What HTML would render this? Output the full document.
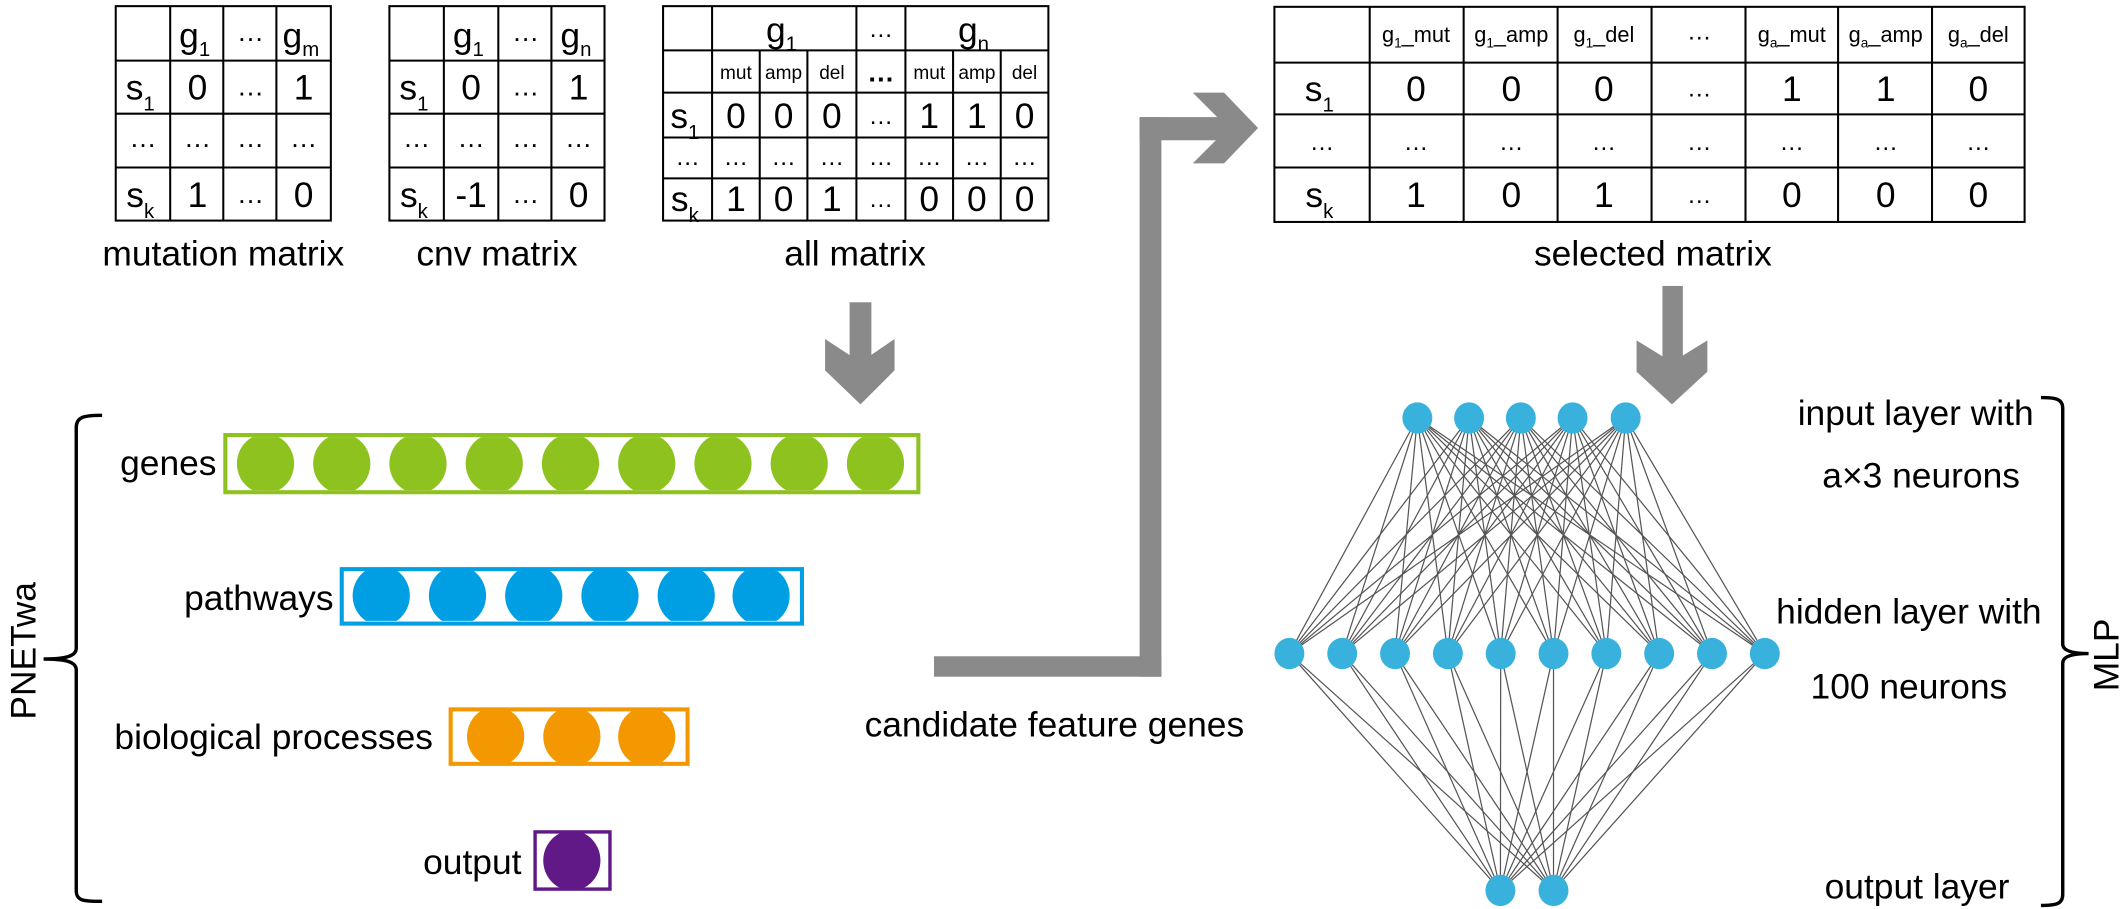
<!DOCTYPE html>
<html><head><meta charset="utf-8"><style>
html,body{margin:0;padding:0;background:#fff;}
svg{display:block;}
text{font-family:"Liberation Sans",Arial,sans-serif;fill:#000;}
</style></head><body>
<svg xmlns="http://www.w3.org/2000/svg" width="2124" height="909" viewBox="0 0 1560 667.6">
<rect width="1560" height="668" fill="#fff"/>

<!-- mutation matrix -->
<g fill="none" stroke="#000" stroke-width="1.5">
<rect x="85" y="4.5" width="158" height="157.5"/>
<line x1="125" y1="4.5" x2="125" y2="162"/><line x1="164" y1="4.5" x2="164" y2="162"/><line x1="203" y1="4.5" x2="203" y2="162"/>
<line x1="85" y1="44.5" x2="243" y2="44.5"/><line x1="85" y1="83.5" x2="243" y2="83.5"/><line x1="85" y1="123" x2="243" y2="123"/>
</g>
<g font-size="26" text-anchor="middle">
<text x="143" y="35">g<tspan font-size="15" dy="6">1</tspan></text>
<text x="184" y="30" font-size="20">…</text>
<text x="221" y="35">g<tspan font-size="15" dy="6">m</tspan></text>
<text x="103" y="73">s<tspan font-size="15" dy="8">1</tspan></text>
<text x="145" y="73">0</text><text x="184" y="70" font-size="20">…</text><text x="223" y="73">1</text>
<text x="105" y="108" font-size="20">…</text><text x="145" y="108" font-size="20">…</text><text x="184" y="108" font-size="20">…</text><text x="223" y="108" font-size="20">…</text>
<text x="103" y="152">s<tspan font-size="15" dy="8">k</tspan></text>
<text x="145" y="152">1</text><text x="184" y="149" font-size="20">…</text><text x="223" y="152">0</text>
</g>
<text x="164" y="195" font-size="26" text-anchor="middle">mutation matrix</text>

<!-- cnv matrix -->
<g fill="none" stroke="#000" stroke-width="1.5">
<rect x="286" y="4.5" width="158" height="157.5"/>
<line x1="326" y1="4.5" x2="326" y2="162"/><line x1="366" y1="4.5" x2="366" y2="162"/><line x1="405" y1="4.5" x2="405" y2="162"/>
<line x1="286" y1="44.5" x2="444" y2="44.5"/><line x1="286" y1="83.5" x2="444" y2="83.5"/><line x1="286" y1="123" x2="444" y2="123"/>
</g>
<g font-size="26" text-anchor="middle">
<text x="344" y="35">g<tspan font-size="15" dy="6">1</tspan></text>
<text x="386" y="30" font-size="20">…</text>
<text x="423" y="35">g<tspan font-size="15" dy="6">n</tspan></text>
<text x="304" y="73">s<tspan font-size="15" dy="8">1</tspan></text>
<text x="346" y="73">0</text><text x="386" y="70" font-size="20">…</text><text x="425" y="73">1</text>
<text x="306" y="108" font-size="20">…</text><text x="346" y="108" font-size="20">…</text><text x="386" y="108" font-size="20">…</text><text x="425" y="108" font-size="20">…</text>
<text x="304" y="152">s<tspan font-size="15" dy="8">k</tspan></text>
<text x="346" y="152">-1</text><text x="386" y="149" font-size="20">…</text><text x="425" y="152">0</text>
</g>
<text x="365" y="195" font-size="26" text-anchor="middle">cnv matrix</text>

<!-- all matrix -->
<g fill="none" stroke="#000" stroke-width="1.5">
<rect x="487" y="4.5" width="283" height="157.5"/>
<line x1="523" y1="4.5" x2="523" y2="162"/><line x1="629" y1="4.5" x2="629" y2="162"/><line x1="665" y1="4.5" x2="665" y2="162"/>
<line x1="558" y1="37" x2="558" y2="162"/><line x1="593" y1="37" x2="593" y2="162"/>
<line x1="700" y1="37" x2="700" y2="162"/><line x1="735" y1="37" x2="735" y2="162"/>
<line x1="487" y1="37" x2="770" y2="37"/><line x1="487" y1="68" x2="770" y2="68"/><line x1="487" y1="101" x2="770" y2="101"/><line x1="487" y1="131" x2="770" y2="131"/>
</g>
<g font-size="26" text-anchor="middle">
<text x="574" y="31">g<tspan font-size="15" dy="6">1</tspan></text>
<text x="647" y="27" font-size="18">…</text>
<text x="715" y="31">g<tspan font-size="15" dy="6">n</tspan></text>
<g font-size="14"><text x="540.5" y="58">mut</text><text x="575.5" y="58">amp</text><text x="611" y="58">del</text>
<text x="647" y="60" font-size="20" font-weight="bold">…</text>
<text x="682.5" y="58">mut</text><text x="717.5" y="58">amp</text><text x="752.5" y="58">del</text></g>
<text x="503" y="94">s<tspan font-size="15" dy="8">1</tspan></text>
<text x="540.5" y="94">0</text><text x="575.5" y="94">0</text><text x="611" y="94">0</text><text x="647" y="91" font-size="18">…</text><text x="682.5" y="94">1</text><text x="717.5" y="94">1</text><text x="752.5" y="94">0</text>
<g font-size="18"><text x="505" y="121">…</text><text x="540.5" y="121">…</text><text x="575.5" y="121">…</text><text x="611" y="121">…</text><text x="647" y="121">…</text><text x="682.5" y="121">…</text><text x="717.5" y="121">…</text><text x="752.5" y="121">…</text></g>
<text x="503" y="155">s<tspan font-size="15" dy="8">k</tspan></text>
<text x="540.5" y="155">1</text><text x="575.5" y="155">0</text><text x="611" y="155">1</text><text x="647" y="152" font-size="18">…</text><text x="682.5" y="155">0</text><text x="717.5" y="155">0</text><text x="752.5" y="155">0</text>
</g>
<text x="628" y="195" font-size="26" text-anchor="middle">all matrix</text>

<!-- selected matrix -->
<g fill="none" stroke="#000" stroke-width="1.5">
<rect x="936" y="5" width="551" height="158"/>
<line x1="1006" y1="5" x2="1006" y2="163"/><line x1="1075" y1="5" x2="1075" y2="163"/><line x1="1144" y1="5" x2="1144" y2="163"/><line x1="1213" y1="5" x2="1213" y2="163"/>
<line x1="1282" y1="5" x2="1282" y2="163"/><line x1="1350" y1="5" x2="1350" y2="163"/><line x1="1419" y1="5" x2="1419" y2="163"/>
<line x1="936" y1="46" x2="1487" y2="46"/><line x1="936" y1="84" x2="1487" y2="84"/><line x1="936" y1="123" x2="1487" y2="123"/>
</g>
<g font-size="26" text-anchor="middle">
<g font-size="16">
<text x="1040" y="31">g<tspan font-size="10" dy="4">1</tspan><tspan dy="-4">_mut</tspan></text>
<text x="1110" y="31">g<tspan font-size="10" dy="4">1</tspan><tspan dy="-4">_amp</tspan></text>
<text x="1178" y="31">g<tspan font-size="10" dy="4">1</tspan><tspan dy="-4">_del</tspan></text>
<text x="1248" y="29" font-size="18">…</text>
<text x="1316" y="31">g<tspan font-size="10" dy="4">a</tspan><tspan dy="-4">_mut</tspan></text>
<text x="1385" y="31">g<tspan font-size="10" dy="4">a</tspan><tspan dy="-4">_amp</tspan></text>
<text x="1453" y="31">g<tspan font-size="10" dy="4">a</tspan><tspan dy="-4">_del</tspan></text>
</g>
<text x="969" y="74">s<tspan font-size="15" dy="8">1</tspan></text>
<text x="1040" y="74">0</text><text x="1110" y="74">0</text><text x="1178" y="74">0</text><text x="1248" y="71" font-size="18">…</text><text x="1316" y="74">1</text><text x="1385" y="74">1</text><text x="1453" y="74">0</text>
<g font-size="18"><text x="971" y="110">…</text><text x="1040" y="110">…</text><text x="1110" y="110">…</text><text x="1178" y="110">…</text><text x="1248" y="110">…</text><text x="1316" y="110">…</text><text x="1385" y="110">…</text><text x="1453" y="110">…</text></g>
<text x="969" y="152">s<tspan font-size="15" dy="8">k</tspan></text>
<text x="1040" y="152">1</text><text x="1110" y="152">0</text><text x="1178" y="152">1</text><text x="1248" y="149" font-size="18">…</text><text x="1316" y="152">0</text><text x="1385" y="152">0</text><text x="1453" y="152">0</text>
</g>
<text x="1214" y="195" font-size="26" text-anchor="middle">selected matrix</text>

<!-- grey arrows -->
<g fill="#8a8a8a">
<rect x="624" y="222" width="16" height="50"/>
<polygon points="606,249 632,266 657,249 657,272 632,297 606,272"/>
<rect x="1221" y="210" width="15" height="62"/>
<polygon points="1202,250 1228,266 1254,250 1254,273 1228,297 1202,273"/>
<rect x="686" y="482" width="167" height="15"/>
<rect x="837" y="86" width="16" height="411"/>
<rect x="837" y="86" width="72" height="17"/>
<polygon points="876,68 899,68 924,94 899,120 876,120 902,94"/>
</g>
<text x="635" y="541" font-size="26">candidate feature genes</text>

<!-- PNETwa -->
<path d="M75,305 C62,305 56,306 56,314 L56,476 C56,482 48,484 32,484 C48,484 56,486 56,492 L56,654 C56,662 62,662 75,662" fill="none" stroke="#000" stroke-width="2.5"/>
<text transform="translate(26,478) rotate(-90)" font-size="26" text-anchor="middle">PNETwa</text>

<defs>
<clipPath id="cg"><rect x="166" y="321" width="508" height="39"/></clipPath>
<clipPath id="cp"><rect x="252" y="419" width="336" height="37"/></clipPath>
<clipPath id="cb"><rect x="332" y="522" width="172" height="38"/></clipPath>
<clipPath id="co"><rect x="394" y="612" width="53" height="40"/></clipPath>
</defs>
<rect x="165.5" y="319.5" width="509" height="42" fill="none" stroke="#8dc21f" stroke-width="3"/>
<g fill="#8dc21f" clip-path="url(#cg)">
<ellipse cx="195" cy="340.5" rx="21" ry="22"/><ellipse cx="251" cy="340.5" rx="21" ry="22"/><ellipse cx="307" cy="340.5" rx="21" ry="22"/><ellipse cx="363" cy="340.5" rx="21" ry="22"/><ellipse cx="419" cy="340.5" rx="21" ry="22"/><ellipse cx="475" cy="340.5" rx="21" ry="22"/><ellipse cx="531" cy="340.5" rx="21" ry="22"/><ellipse cx="587" cy="340.5" rx="21" ry="22"/><ellipse cx="643" cy="340.5" rx="21" ry="22"/>
</g>
<text x="159" y="349" font-size="26" text-anchor="end">genes</text>

<rect x="251" y="418" width="338" height="40" fill="none" stroke="#009fe3" stroke-width="3"/>
<g fill="#009fe3" clip-path="url(#cp)">
<ellipse cx="280" cy="437.5" rx="21" ry="22"/><ellipse cx="336" cy="437.5" rx="21" ry="22"/><ellipse cx="392" cy="437.5" rx="21" ry="22"/><ellipse cx="448" cy="437.5" rx="21" ry="22"/><ellipse cx="504" cy="437.5" rx="21" ry="22"/><ellipse cx="559" cy="437.5" rx="21" ry="22"/>
</g>
<text x="245" y="448" font-size="26" text-anchor="end">pathways</text>

<rect x="331" y="521" width="174" height="40" fill="none" stroke="#f39800" stroke-width="3"/>
<g fill="#f39800" clip-path="url(#cb)">
<ellipse cx="364" cy="541" rx="21" ry="22"/><ellipse cx="420" cy="541" rx="21" ry="22"/><ellipse cx="475" cy="541" rx="21" ry="22"/>
</g>
<text x="318" y="550" font-size="26" text-anchor="end">biological processes</text>

<rect x="393" y="611" width="55" height="42" fill="none" stroke="#601986" stroke-width="2.5"/>
<g fill="#601986" clip-path="url(#co)"><ellipse cx="420" cy="632" rx="21" ry="22"/></g>
<text x="383" y="642" font-size="26" text-anchor="end">output</text>

<!-- MLP -->
<g id="edges" stroke="#555" stroke-width="0.9"></g>
<g id="nodes" fill="#38b1dd"></g>
<g font-size="26" text-anchor="middle">
<text x="1407" y="312">input layer with</text>
<text x="1411" y="358">a×3 neurons</text>
<text x="1402" y="458">hidden layer with</text>
<text x="1402" y="513">100 neurons</text>
<text x="1408" y="660">output layer</text>
</g>
<path d="M1499,292 C1510,292 1515,293 1515,300 L1515,473 C1515,478 1522,480 1534,480 C1522,480 1515,482 1515,487 L1515,657 C1515,664 1510,665 1499,665" fill="none" stroke="#000" stroke-width="2.5"/>
<text transform="translate(1556,481) rotate(-90)" font-size="26" text-anchor="middle">MLP</text>

<script>
(function(){
var ns="http://www.w3.org/2000/svg";
var inp=[1041,1079,1117,1155,1194].map(function(x){return [x,307];});
var hid=[];for(var i=0;i<10;i++)hid.push([947+i*38.8,480]);
var out=[[1102,654],[1141,654]];
var e=document.getElementById("edges"),n=document.getElementById("nodes");
function L(a,b){var l=document.createElementNS(ns,"line");l.setAttribute("x1",a[0]);l.setAttribute("y1",a[1]);l.setAttribute("x2",b[0]);l.setAttribute("y2",b[1]);e.appendChild(l);}
inp.forEach(function(a){hid.forEach(function(b){L(a,b);});});
hid.forEach(function(a){out.forEach(function(b){L(a,b);});});
function C(p){var c=document.createElementNS(ns,"ellipse");c.setAttribute("cx",p[0]);c.setAttribute("cy",p[1]);c.setAttribute("rx",11);c.setAttribute("ry",11.5);n.appendChild(c);}
inp.forEach(C);hid.forEach(C);out.forEach(C);
})();
</script>
</svg>
</body></html>
